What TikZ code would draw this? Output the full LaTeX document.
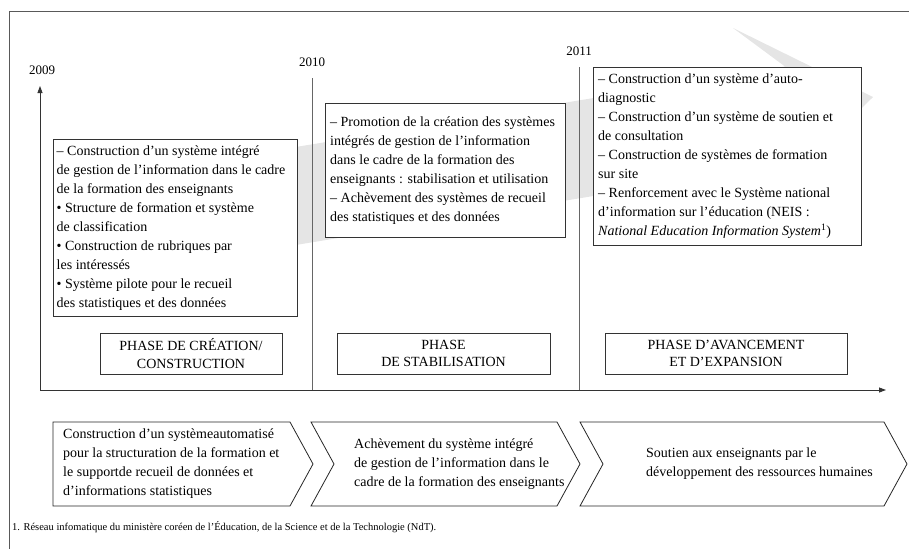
\documentclass[tikz,border=0pt]{standalone}
\usepackage{fontspec}
\setmainfont{Liberation Serif}
\usetikzlibrary{arrows.meta}
\begin{document}
\begin{tikzpicture}[x=1pt,y=-1pt,
  frameline/.style={draw=black!65, line width=0.9pt},
  axisline/.style={draw=black!80, line width=0.8pt, -{Triangle[length=7pt,width=5pt]}},
  yearline/.style={draw=black!60, line width=0.9pt},
  yearlabel/.style={font=\fontsize{13}{15}\selectfont, inner sep=0pt},
  boxframe/.style={draw=black!80, fill=white, line width=0.8pt, inner sep=0pt, anchor=north west},
  boxtext/.style={font=\fontsize{14}{19}\selectfont, align=left, inner sep=0pt, anchor=west},
  phasebox/.style={draw=black!80, fill=white, line width=0.8pt, inner sep=0pt, minimum height=41pt, font=\fontsize{14}{17.5}\selectfont, align=center},
  chevron/.style={draw=black!85, fill=white, line width=0.8pt},
  chevtext/.style={font=\fontsize{14}{19}\selectfont, align=left, inner sep=0pt, anchor=west},
  grayarrow/.style={fill=black!10, draw=none},
  notetext/.style={font=\fontsize{10.5}{12}\selectfont, inner sep=0pt, anchor=west}
]
\useasboundingbox (0,0) rectangle (909,549);

% background arrow
\fill[grayarrow] (150,171) -- (785,66.5) -- (733,28) -- (873,97) -- (762,207) -- (800,162) -- (150,269) -- cycle;

% frame
\coordinate (ftr) at (909,11);
\coordinate (ftl) at (9,11);
\coordinate (fbl) at (9,549);
\draw[frameline] (ftr) -- (ftl) -- (fbl);

% axes
\coordinate (origin) at (40,390);
\coordinate (xtip) at (886,390);
\coordinate (ytip) at (40,86);
\draw[axisline] (origin) -- (xtip);
\draw[axisline] (origin) -- (ytip);

% year lines
\coordinate (l10top) at (312,78);
\coordinate (l10bot) at (312,390);
\coordinate (l11top) at (579,67);
\coordinate (l11bot) at (579,390);
\draw[yearline] (l10top) -- (l10bot);
\draw[yearline] (l11top) -- (l11bot);

\node[yearlabel] (y09) at (42,70) {2009};
\node[yearlabel] (y10) at (312,62) {2010};
\node[yearlabel] (y11) at (579,51) {2011};

% boxes
\node[boxframe, minimum width=244pt, minimum height=177pt] (b1) at (53,139) {};
\node[boxtext] (t1) at ([xshift=3.5pt]b1.west) {– Construction d’un système intégré\\
de gestion de l’information dans le cadre\\
de la formation des enseignants\\
• Structure de formation et système\\
de classification\\
• Construction de rubriques par\\
les intéressés\\
• Système pilote pour le recueil\\
des statistiques et des données};

\node[boxframe, minimum width=240pt, minimum height=134pt] (b2) at (325,103) {};
\node[boxtext] (t2) at ([xshift=5pt]b2.west) {– Promotion de la création des systèmes\\
intégrés de gestion de l’information\\
dans le cadre de la formation des\\
enseignants : stabilisation et utilisation\\
– Achèvement des systèmes de recueil\\
des statistiques et des données};

\node[boxframe, minimum width=268pt, minimum height=178pt] (b3) at (593,67) {};
\node[boxtext] (t3) at ([xshift=5pt]b3.west) {– Construction d’un système d’auto-\\
diagnostic\\
– Construction d’un système de soutien et\\
de consultation\\
– Construction de systèmes de formation\\
sur site\\
– Renforcement avec le Système national\\
d’information sur l’éducation (NEIS :\\
\textit{National Education Information System}\textsuperscript{1})};

% phase boxes
\node[phasebox, minimum width=182pt] (p1) at (191,353.5) {PHASE DE CRÉATION/\\CONSTRUCTION};
\node[phasebox, minimum width=213pt] (p2) at (443.5,353.5) {PHASE\\DE STABILISATION};
\node[phasebox, minimum width=242pt] (p3) at (726,353.5) {PHASE D’AVANCEMENT\\ET D’EXPANSION};

% chevrons
\coordinate (c1a) at (53,422);
\coordinate (c1b) at (290,422);
\coordinate (c1c) at (313,464);
\coordinate (c1d) at (290,506);
\coordinate (c1e) at (53,506);
\draw[chevron] (c1a) -- (c1b) -- (c1c) -- (c1d) -- (c1e) -- cycle;

\coordinate (c2a) at (311,422);
\coordinate (c2b) at (557,422);
\coordinate (c2c) at (580,464);
\coordinate (c2d) at (557,506);
\coordinate (c2e) at (311,506);
\coordinate (c2f) at (334,464);
\draw[chevron] (c2a) -- (c2b) -- (c2c) -- (c2d) -- (c2e) -- (c2f) -- cycle;

\coordinate (c3a) at (580,422);
\coordinate (c3b) at (884,422);
\coordinate (c3c) at (907,464);
\coordinate (c3d) at (884,506);
\coordinate (c3e) at (580,506);
\coordinate (c3f) at (603,464);
\draw[chevron] (c3a) -- (c3b) -- (c3c) -- (c3d) -- (c3e) -- (c3f) -- cycle;

\node[chevtext] (ct1) at (63,464) {Construction d’un systèmeautomatisé\\
pour la structuration de la formation et\\
le supportde recueil de données et\\
d’informations statistiques};
\node[chevtext] (ct2) at (354,464) {Achèvement du système intégré\\
de gestion de l’information dans le\\
cadre de la formation des enseignants};
\node[chevtext] (ct3) at (646,464) {Soutien aux enseignants par le\\
développement des ressources humaines};

% footnote
\node[notetext] (fn) at (12,527) {1. Réseau infomatique du ministère coréen de l’Éducation, de la Science et de la Technologie (NdT).};
\end{tikzpicture}
\end{document}
